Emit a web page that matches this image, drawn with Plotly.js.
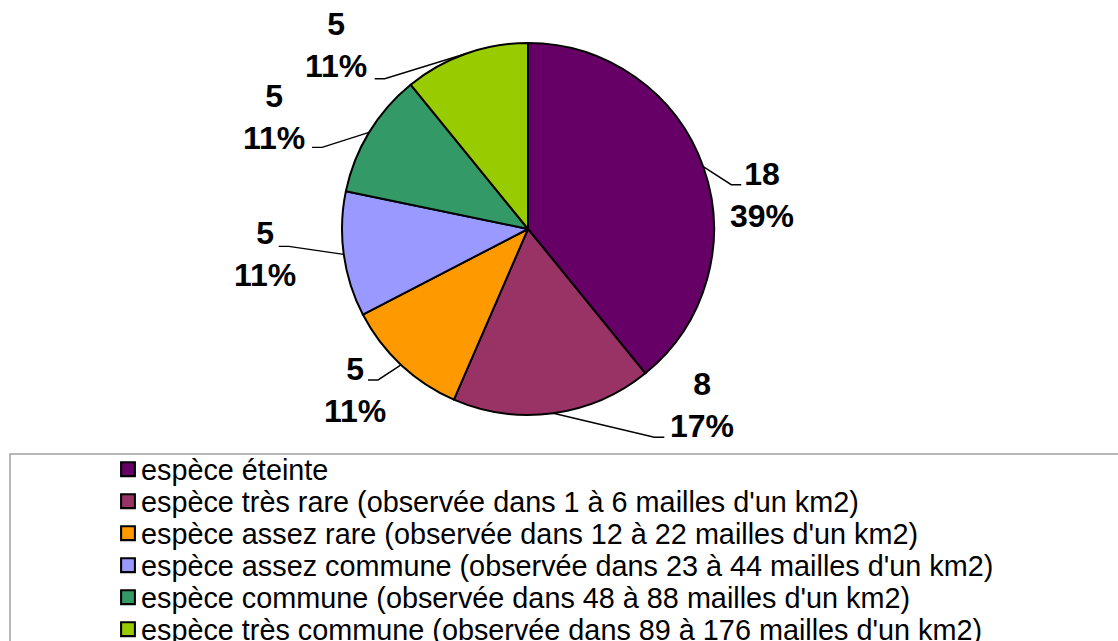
<!DOCTYPE html>
<html>
<head>
<meta charset="utf-8">
<script src="https://cdn.plot.ly/plotly-3.0.1.min.js"></script>
<style>
    html, body { margin: 0; padding: 0; background: #ffffff; }
    #chart { width: 1118px; height: 641px; }
</style>
</head>
<body>
<div id="chart"></div>
<script>
// Répartition des espèces par classe de rareté
const categories = [
    "espèce éteinte",
    "espèce très rare (observée dans 1 à 6 mailles d'un km2)",
    "espèce assez rare (observée dans 12 à 22 mailles d'un km2)",
    "espèce assez commune (observée dans 23 à 44 mailles d'un km2)",
    "espèce commune (observée dans 48 à 88 mailles d'un km2)",
    "espèce très commune (observée dans 89 à 176 mailles d'un km2)"
];
const speciesCount = [18, 8, 5, 5, 5, 5];
const sliceColors = ['#660066', '#993366', '#FF9900', '#9999FF', '#339966', '#99CC00'];

// Label placement (pixels): text centre offset from the slice edge, and leader end offset from text centre
const labelOffsets = [
    { dx: 59, dy: 28, ex: -21, ey: -10 },
    { dx: 149, dy: -8, ex: -38, ey: 32 },
    { dx: -46, dy: 25, ex: 13, ey: -10 },
    { dx: -79, dy: 0, ex: 14, ey: -8 },
    { dx: -95, dy: -15, ex: 38, ey: 30 },
    { dx: -130, dy: -9, ex: 39, ey: 34 }
];

const W = 1118, H = 641;
const pie = { cx: 528, cy: 229, r: 186 };

// pixel -> paper (margins are zero so paper == page)
const px = x => x / W;
const py = y => 1 - y / H;

function buildLabels() {
    const total = speciesCount.reduce((a, b) => a + b, 0);
    const annotations = [];
    const shapes = [];
    let start = 0;

    speciesCount.forEach((v, i) => {
        const mid = (start + v / 2) / total * 2 * Math.PI; // clockwise from 12 o'clock
        start += v;

        const ax = pie.cx + pie.r * Math.sin(mid);
        const ay = pie.cy - pie.r * Math.cos(mid);
        const o = labelOffsets[i];
        const tx = ax + o.dx, ty = ay + o.dy;
        const fx = tx + o.ex, fy = ty + o.ey;
        const elbowX = fx + (fx < ax ? 10 : -10);

        annotations.push({
            xref: 'paper', yref: 'paper',
            x: px(tx), y: py(ty),
            xanchor: 'center', yanchor: 'middle',
            text: `${v}<br>${Math.round(v / total * 100)}%`,
            showarrow: false,
            font: { family: 'Liberation Sans, Arial, sans-serif', size: 32, weight: 'bold', color: '#000000' }
        });

        shapes.push({
            type: 'path', xref: 'paper', yref: 'paper',
            path: `M ${px(ax)} ${py(ay)} L ${px(elbowX)} ${py(fy)} L ${px(fx)} ${py(fy)}`,
            line: { color: '#000000', width: 1.4 }
        });
    });

    // legend frame, runs off the bottom and right of the page
    shapes.push({
        type: 'rect', xref: 'paper', yref: 'paper',
        x0: px(10), x1: px(1130), y0: py(454), y1: py(700),
        line: { color: '#a0a0a0', width: 1.5 },
        fillcolor: 'rgba(0,0,0,0)', layer: 'below'
    });

    return { annotations, shapes };
}

const { annotations, shapes } = buildLabels();

const pieTrace = {
    type: 'pie',
    labels: categories,
    values: speciesCount,
    sort: false,
    direction: 'clockwise',
    rotation: 0,
    textinfo: 'none',
    hoverinfo: 'label+value+percent',
    marker: { colors: sliceColors, line: { color: '#000000', width: 2 } },
    domain: { x: [px(pie.cx - pie.r), px(pie.cx + pie.r)], y: [py(pie.cy + pie.r), py(pie.cy - pie.r)] }
};

const layout = {
    width: W,
    height: H,
    margin: { t: 0, b: 0, l: 0, r: 0, autoexpand: false },
    paper_bgcolor: '#ffffff',
    font: { family: 'Liberation Sans, Arial, sans-serif', color: '#000000' },
    showlegend: true,
    legend: {
        xref: 'container', yref: 'container',
        x: px(101), y: py(444),
        xanchor: 'left', yanchor: 'top',
        bgcolor: 'rgba(0,0,0,0)',
        borderwidth: 0,
        font: { size: 28.8, color: '#000000' },
        traceorder: 'normal'
    },
    annotations: annotations,
    shapes: shapes
};

const config = { displayModeBar: false, staticPlot: true };

// Excel packs legend rows tighter than Plotly does, so pull them together after drawing,
// and give the swatches the larger, heavier-edged look of the original
const rowGap = 32;
Plotly.newPlot('chart', [pieTrace], layout, config).then(gd => {
    const items = gd.querySelectorAll('.legend .traces');
    let firstY = null;
    items.forEach((g, i) => {
        const m = /translate\(\s*([-\d.]+)[ ,]+([-\d.]+)\s*\)/.exec(g.getAttribute('transform') || '');
        if (!m) return;
        if (firstY === null) firstY = parseFloat(m[2]);
        g.setAttribute('transform', `translate(${m[1]}, ${firstY + i * rowGap})`);
    });
    gd.querySelectorAll('.legend .legendpoints path').forEach(p => {
        p.setAttribute('transform', 'translate(27,0) scale(1.15)');
        p.style.strokeWidth = '1.8px';
    });
});
</script>
</body>
</html>
